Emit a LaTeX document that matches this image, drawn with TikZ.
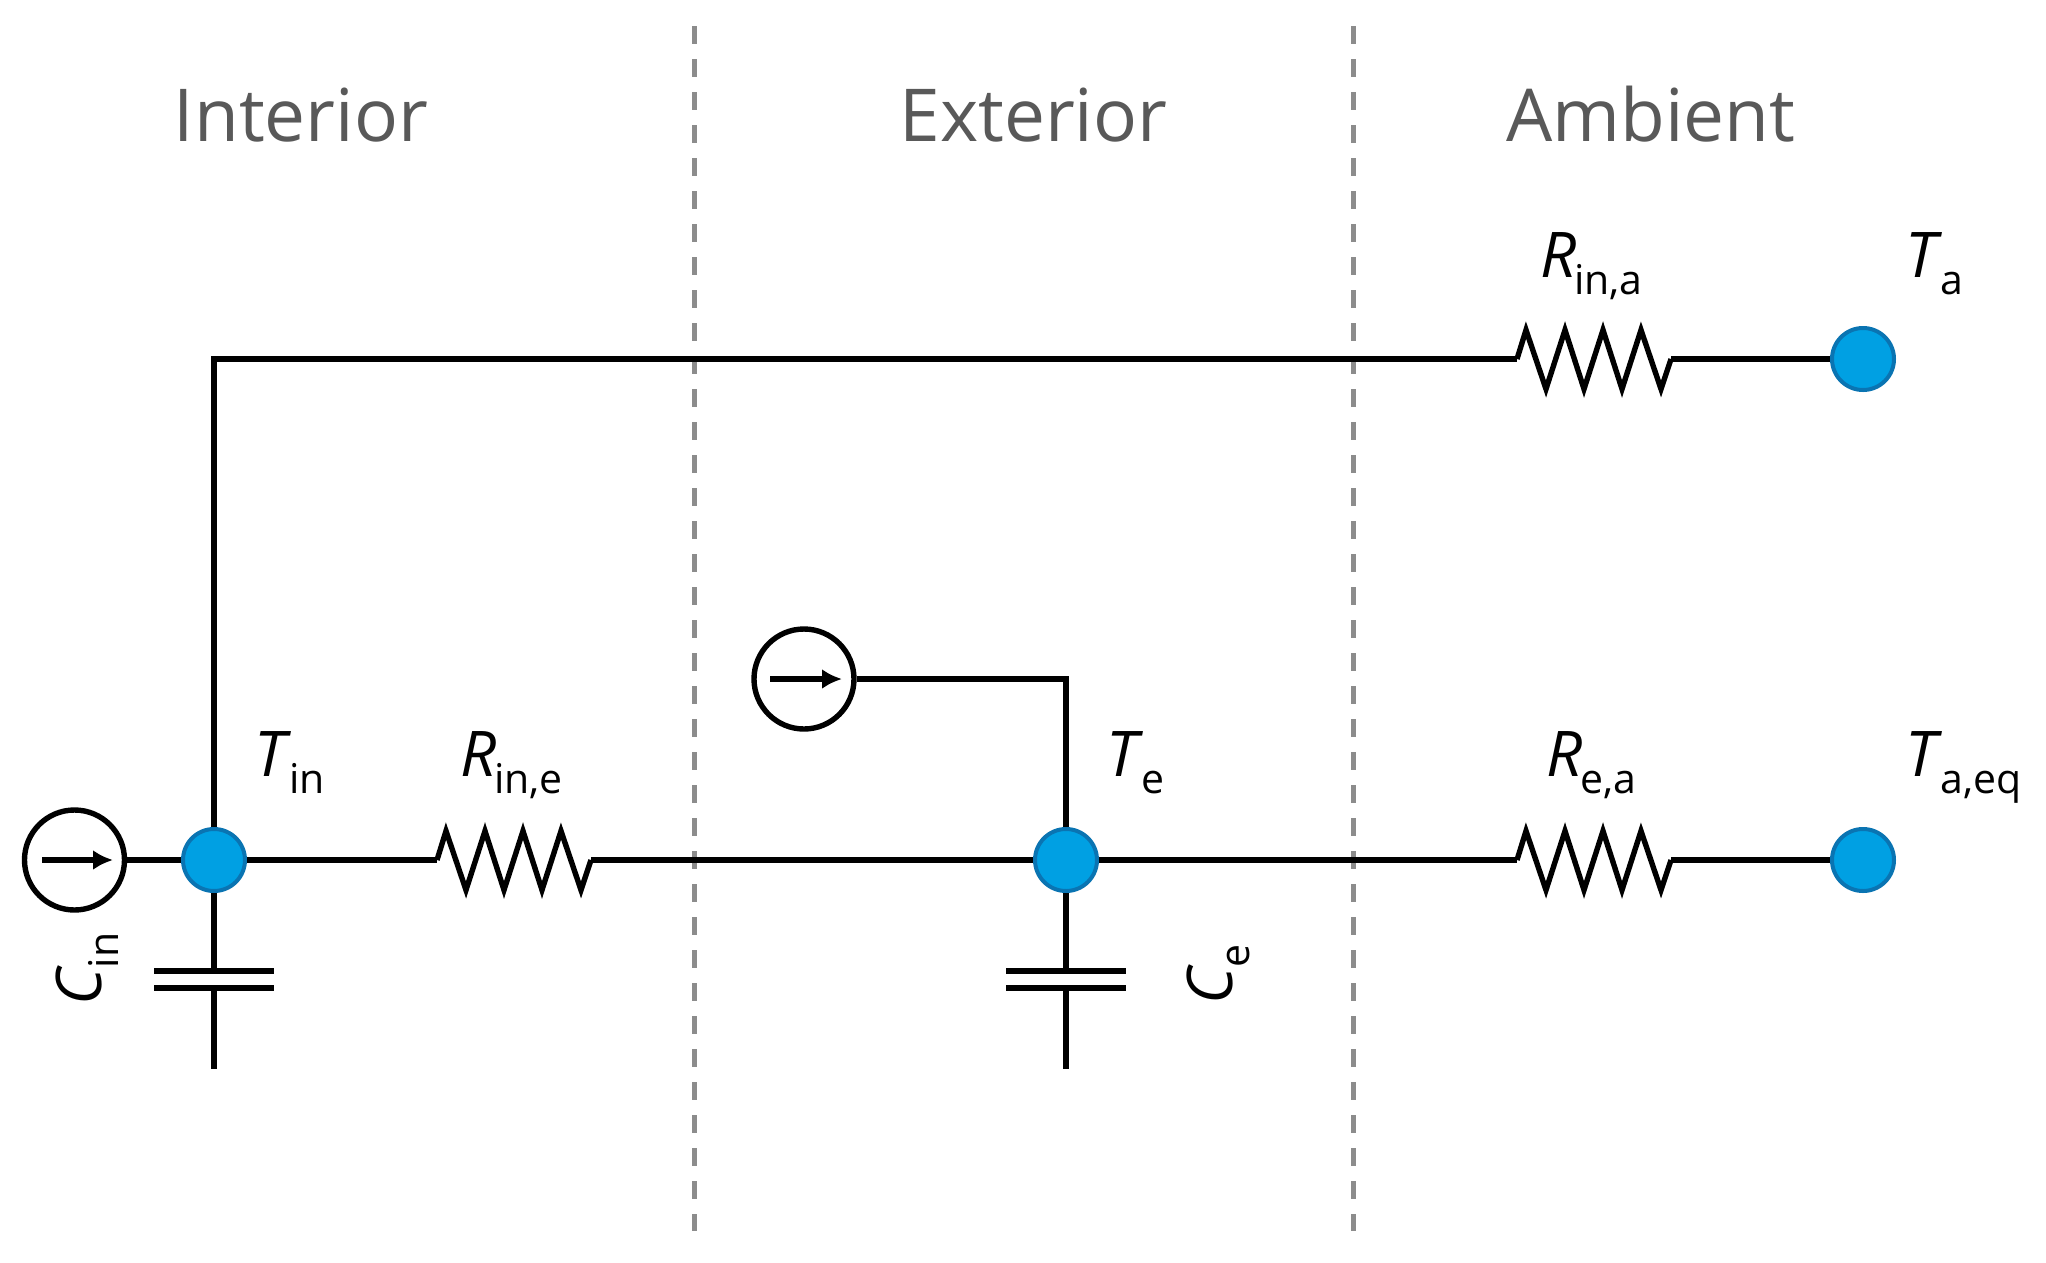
\documentclass[tikz,border=0pt]{standalone}
\usepackage{fontspec}
\setmainfont{Open Sans}
\usetikzlibrary{arrows.meta,calc}
\definecolor{nodeblue}{HTML}{00A0E3}
\definecolor{nodeedge}{HTML}{0A74B2}
\definecolor{titlegray}{HTML}{595959}
\definecolor{dashgray}{HTML}{8C8C8C}
\newcommand{\lbl}[2]{\fontsize{63}{70}\selectfont\textit{#1}\kern-2pt\raisebox{-17pt}{\fontsize{41}{44}\selectfont #2}}
\newcommand{\resistor}[3]{%
  \coordinate (#1-w) at (#2,#3);
  \coordinate (#1-e) at (#2+154,#3);
  \draw[wire,line join=miter,miter limit=10] (#1-w)
    -- ++(9,-29) -- ++(20,59) -- ++(19,-59) -- ++(19,59) -- ++(19,-59)
    -- ++(19,59) -- ++(19,-59) -- ++(20,59) -- (#1-e);}
\newcommand{\capacitor}[2]{%
  \coordinate (#1-t) at (#2,971);
  \coordinate (#1-b) at (#2,988);
  \coordinate (#1-end) at (#2,1069);
  \draw[plate] (#2-60,971) -- (#2+60,971);
  \draw[plate] (#2-60,988) -- (#2+60,988);}
\tikzset{
  wire/.style={line width=5.4pt,black},
  plate/.style={line width=6pt,black},
  tnode/.style={circle,fill=nodeblue,draw=nodeedge,line width=4pt,minimum size=62pt,inner sep=0pt},
  source/.style={circle,draw=black,line width=5.4pt,minimum size=100pt,inner sep=0pt},
  flow/.style={line width=5.4pt,black,-{Latex[length=20pt,width=20pt]}},
  title/.style={text=titlegray,font=\fontsize{73}{80}\selectfont,anchor=base,inner sep=0pt},
  lab/.style={anchor=base west,inner sep=0pt,text=black},
  divider/.style={line width=5pt,dashgray,dash pattern=on 18pt off 15pt},
}
\begin{document}
\begin{tikzpicture}[x=1pt,y=-1pt]
\useasboundingbox[fill=white] (0,0) rectangle (2046,1262);

% dividers
\coordinate (d1t) at (694,26); \coordinate (d1b) at (694,1231);
\coordinate (d2t) at (1353,26); \coordinate (d2b) at (1353,1231);
\draw[divider] (d1t) -- (d1b);
\draw[divider] (d2t) -- (d2b);

% titles
\node[title] (interior) at (301,141) {Interior};
\node[title] (exterior) at (1033.5,141) {Exterior};
\node[title] (ambient) at (1651,141) {Ambient};

% temperature nodes
\node[tnode] (tin) at (214,860) {};
\node[tnode] (te) at (1066,860) {};
\node[tnode] (ta) at (1863,359) {};
\node[tnode] (taeq) at (1863,860) {};

% sources
\node[source] (s1) at (74.5,860) {};
\node[source] (s2) at (804,679) {};
\coordinate (s1a) at (42,860); \coordinate (s1b) at (113,860);
\coordinate (s2a) at (770,679); \coordinate (s2b) at (842,679);
\draw[flow] (s1a) -- (s1b);
\draw[flow] (s2a) -- (s2b);

% resistors
\resistor{rie}{437}{860}
\resistor{rea}{1517}{860}
\resistor{ria}{1517}{359}

% capacitors
\capacitor{cin}{214}
\capacitor{ce}{1066}

% wires
\draw[wire] (s1) -- (tin);
\draw[wire] (tin) -- (rie-w);
\draw[wire] (rie-e) -- (te);
\draw[wire] (te) -- (rea-w);
\draw[wire] (rea-e) -- (taeq);
\draw[wire,line join=miter] (tin) -- (tin |- ria-w) -- (ria-w);
\draw[wire] (ria-e) -- (ta);
\draw[wire,line join=miter] (s2) -- (te |- s2) -- (te);
\draw[wire] (tin) -- (cin-t);
\draw[wire] (cin-b) -- (cin-end);
\draw[wire] (te) -- (ce-t);
\draw[wire] (ce-b) -- (ce-end);

% labels
\node[lab] (ltin) at (254,776) {\lbl{T}{in}};
\node[lab] (lrie) at (460,776) {\lbl{R}{in,e}};
\node[lab] (lte) at (1106,776) {\lbl{T}{e}};
\node[lab] (lrea) at (1546,776) {\lbl{R}{e,a}};
\node[lab] (ltaeq) at (1905,776) {\lbl{T}{a,eq}};
\node[lab] (lria) at (1540,277) {\lbl{R}{in,a}};
\node[lab] (lta) at (1905,277) {\lbl{T}{a}};
\node[lab,rotate=90] (lcin) at (101,1006) {\lbl{C}{in}};
\node[lab,rotate=90] (lce) at (1232,1005) {\lbl{C}{e}};
\end{tikzpicture}
\end{document}
